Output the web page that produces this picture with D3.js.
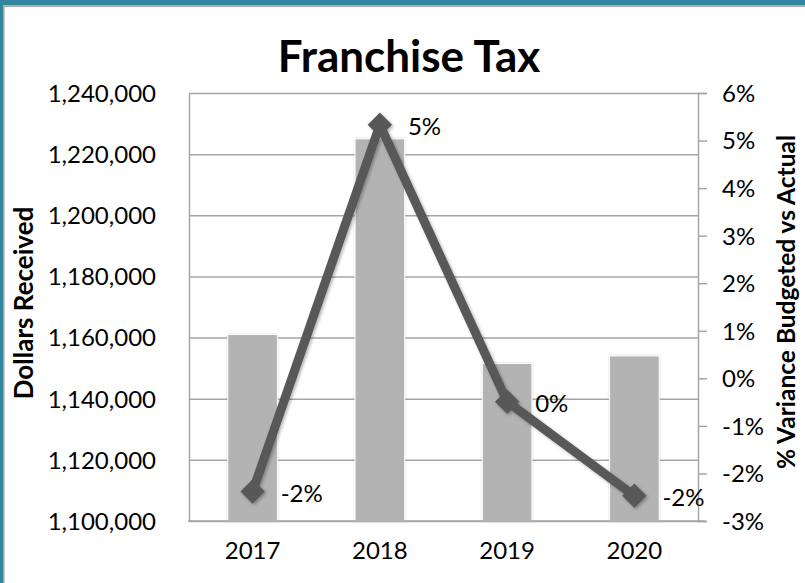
<!DOCTYPE html>
<html>
<head>
<meta charset="utf-8">
<script src="https://cdn.jsdelivr.net/npm/d3@7"></script>
<style>
  html, body { margin: 0; padding: 0; background: #ffffff; }
  svg { display: block; }
  text { font-family: Lato, "Open Sans", sans-serif; fill: #000; }
</style>
</head>
<body>
<svg id="chart" width="805" height="583"></svg>
<script>
// Franchise tax receipts by year, with % variance of budget vs actual
const years = ["2017", "2018", "2019", "2020"];
const dollarsReceived = [1161000, 1225000, 1151500, 1154000];
const varianceBudgetVsActual = [-0.0238, 0.0533, -0.0049, -0.0247];
const dollarTicks = [1100000, 1120000, 1140000, 1160000, 1180000, 1200000, 1220000, 1240000];
const varianceTicks = [-0.03, -0.02, -0.01, 0, 0.01, 0.02, 0.03, 0.04, 0.05, 0.06];

const W = 805, H = 583;
const plot = { left: 189, right: 698, top: 93, bottom: 521 };
const labelSize = "24px";

const svg = d3.select("#chart");

// Soft shadows used by bars and the variance line
const defs = svg.append("defs");
const sh = defs.append("filter").attr("id", "shadow").attr("x", "-20%").attr("y", "-20%").attr("width", "140%").attr("height", "140%");
sh.append("feDropShadow").attr("dx", 1.5).attr("dy", 1.5).attr("stdDeviation", 1.5)
  .attr("flood-color", "#000").attr("flood-opacity", 0.3);
const bsh = defs.append("filter").attr("id", "barShadow").attr("x", "-20%").attr("y", "-5%").attr("width", "140%").attr("height", "110%");
bsh.append("feDropShadow").attr("dx", 0).attr("dy", 0).attr("stdDeviation", 1.2)
  .attr("flood-color", "#7f7f7f").attr("flood-opacity", 0.35);

// Frame: teal band on top and left edges with a grey inner rule
svg.append("rect").attr("x", 0).attr("y", 0).attr("width", W).attr("height", 5.5).attr("fill", "#31859c");
svg.append("rect").attr("x", 0).attr("y", 5.5).attr("width", W).attr("height", 1.6).attr("fill", "#a9a9a9");
svg.append("rect").attr("x", 0).attr("y", 0).attr("width", 3).attr("height", H).attr("fill", "#31859c");
svg.append("rect").attr("x", 3).attr("y", 5.5).attr("width", 1.6).attr("height", H).attr("fill", "#a9a9a9");

// Scales
const x = d3.scaleBand().domain(years).range([plot.left, plot.right])
  .paddingInner(0.61).paddingOuter(0.305);
const y = d3.scaleLinear().domain([1100000, 1240000]).range([plot.bottom, plot.top]);
const y2 = d3.scaleLinear().domain([-0.03, 0.06]).range([plot.bottom, plot.top]);
const xc = d => x(d) + x.bandwidth() / 2;

const pct = v => Math.round(v * 100) + "%";

// Horizontal gridlines
const grid = svg.append("g").attr("transform", `translate(${plot.left},0)`)
  .call(d3.axisLeft(y).tickValues(dollarTicks).tickSize(-(plot.right - plot.left)).tickFormat(""));
grid.select(".domain").remove();
grid.selectAll("line").attr("stroke", "#a6a6a6").attr("stroke-width", 1.5);

// Left axis
const yAxis = svg.append("g").attr("transform", `translate(${plot.left},0)`)
  .call(d3.axisLeft(y).tickValues(dollarTicks).tickSize(0).tickPadding(33).tickFormat(d3.format(",")));
yAxis.select(".domain").attr("stroke", "#a6a6a6").attr("stroke-width", 1.5);
yAxis.selectAll("text").style("font-size", labelSize).attr("dy", "0.35em");

// Right axis
const y2Axis = svg.append("g").attr("transform", `translate(${plot.right},0)`)
  .call(d3.axisRight(y2).tickValues(varianceTicks).tickSize(9).tickPadding(15).tickFormat(pct));
y2Axis.select(".domain").attr("stroke", "#a6a6a6").attr("stroke-width", 1.5);
y2Axis.selectAll("line").attr("stroke", "#a6a6a6").attr("stroke-width", 1.5);
y2Axis.selectAll("text").style("font-size", labelSize).attr("dy", "0.35em");

// Bars
svg.append("g").selectAll("rect").data(years).join("rect")
  .attr("x", d => x(d))
  .attr("width", x.bandwidth())
  .attr("y", (d, i) => y(dollarsReceived[i]))
  .attr("height", (d, i) => plot.bottom - y(dollarsReceived[i]))
  .attr("fill", "#b3b3b3")
  .attr("stroke", "#ffffff").attr("stroke-width", 1)
  .attr("filter", "url(#barShadow)");

// Bottom axis
const xAxis = svg.append("g").attr("transform", `translate(0,${plot.bottom})`)
  .call(d3.axisBottom(x).tickSize(0).tickPadding(21));
xAxis.select(".domain").attr("d", `M${plot.left - 1},0H${plot.right + 7}`)
  .attr("stroke", "#a6a6a6").attr("stroke-width", 1.5);
xAxis.selectAll("text").style("font-size", labelSize);

// Variance line with diamond markers
const pts = years.map((d, i) => [xc(d), y2(varianceBudgetVsActual[i])]);
const lineG = svg.append("g").attr("filter", "url(#shadow)");
lineG.append("path").attr("d", d3.line()(pts))
  .attr("fill", "none").attr("stroke", "#595959").attr("stroke-width", 9).attr("stroke-linejoin", "round");
lineG.selectAll("path.marker").data(pts).join("path").attr("class", "marker")
  .attr("d", d3.symbol(d3.symbolSquare, 300)())
  .attr("transform", p => `translate(${p[0]},${p[1]}) rotate(45)`)
  .attr("fill", "#595959");

// Data labels
svg.append("g").selectAll("text").data(years).join("text")
  .attr("x", (d, i) => pts[i][0] + 28)
  .attr("y", (d, i) => pts[i][1] + 2)
  .attr("dy", "0.35em")
  .style("font-size", labelSize)
  .text((d, i) => pct(varianceBudgetVsActual[i]));

// Title
svg.append("text").attr("x", 409).attr("y", 72).attr("text-anchor", "middle")
  .style("font-size", "44px").style("font-weight", "bold").text("Franchise Tax");

// Axis titles
svg.append("text").attr("transform", `translate(33,${(plot.top + plot.bottom) / 2 - 4}) rotate(-90)`)
  .attr("text-anchor", "middle").style("font-size", "26px").style("font-weight", "bold")
  .text("Dollars Received");
svg.append("text").attr("transform", `translate(795,${(plot.top + plot.bottom) / 2 - 5}) rotate(-90)`)
  .attr("text-anchor", "middle").style("font-size", "24.5px").style("font-weight", "bold")
  .text("% Variance Budgeted vs Actual");
</script>
</body>
</html>
